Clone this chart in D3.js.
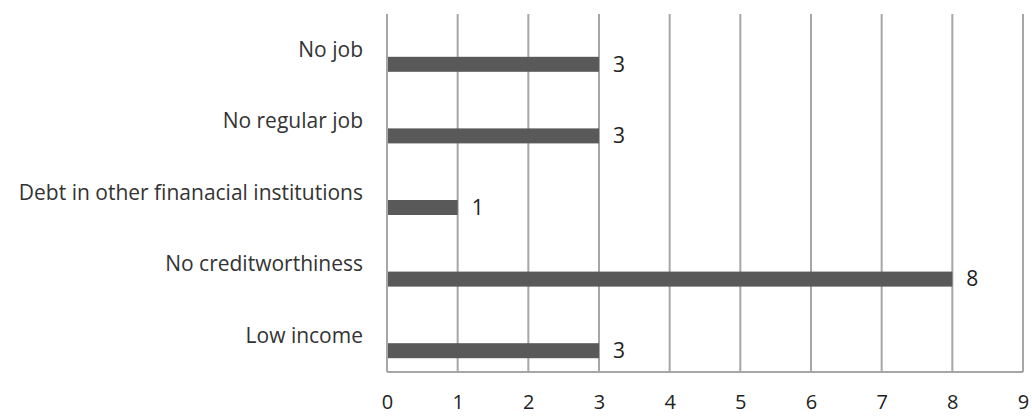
<!DOCTYPE html>
<html>
<head>
<meta charset="utf-8">
<script src="https://cdn.jsdelivr.net/npm/d3@7"></script>
<style>
  body { margin: 0; background: #fff; }
  svg { display: block; font-family: "Open Sans", "Noto Sans", sans-serif; }
</style>
</head>
<body>
<div id="chart"></div>
<script>
// reasons, top to bottom
var categories = ["No job", "No regular job", "Debt in other finanacial institutions", "No creditworthiness", "Low income"];
var values = [3, 3, 1, 8, 3];
var xTicks = [0, 1, 2, 3, 4, 5, 6, 7, 8, 9];

var svgWidth = 1032, svgHeight = 417;
var margin = { top: 14, right: 5, bottom: 45, left: 387 };
var width = svgWidth - margin.left - margin.right;
var height = svgHeight - margin.top - margin.bottom;

var svg = d3.select("#chart").append("svg")
    .attr("width", svgWidth)
    .attr("height", svgHeight);

var g = svg.append("g")
    .attr("transform", "translate(" + margin.left + "," + margin.top + ")");

var x = d3.scaleLinear()
    .domain([0, 9])
    .range([0, 636]);

var y = d3.scaleBand()
    .domain(categories)
    .range([0, height]);

// vertical grid lines
g.selectAll(".grid")
    .data(xTicks)
    .enter().append("line")
    .attr("x1", function(d) { return x(d); })
    .attr("x2", function(d) { return x(d); })
    .attr("y1", 0)
    .attr("y2", height)
    .attr("stroke", "#a6a6a6")
    .attr("stroke-width", 2);

// bottom axis line
g.append("line")
    .attr("x1", 0)
    .attr("x2", x(9))
    .attr("y1", height)
    .attr("y2", height)
    .attr("stroke", "#a6a6a6")
    .attr("stroke-width", 2);

var xAxis = g.append("g")
    .attr("transform", "translate(0," + height + ")")
    .call(d3.axisBottom(x).tickValues(xTicks).tickSize(0).tickPadding(23).tickFormat(d3.format("d")));
xAxis.select(".domain").remove();
xAxis.selectAll("text")
    .attr("font-size", 20)
    .attr("font-family", "Open Sans, sans-serif")
    .attr("fill", "#222");

// category labels sit at band centres, bars a little below
var yAxis = g.append("g")
    .call(d3.axisLeft(y).tickSize(0).tickPadding(24));
yAxis.select(".domain").remove();
yAxis.selectAll("text")
    .attr("font-size", 21)
    .attr("font-family", "Open Sans, sans-serif")
    .attr("fill", "#333");

var barOffset = 7, barHeight = 15;

g.selectAll(".bar")
    .data(values)
    .enter().append("rect")
    .attr("x", x(0) + 1)
    .attr("y", function(d, i) { return y(categories[i]) + y.bandwidth() / 2 + barOffset; })
    .attr("width", function(d) { return x(d) - x(0) - 1; })
    .attr("height", barHeight)
    .attr("fill", "#595959");

g.selectAll(".val")
    .data(values)
    .enter().append("text")
    .attr("x", function(d) { return x(d) + 14; })
    .attr("y", function(d, i) { return y(categories[i]) + y.bandwidth() / 2 + barOffset + barHeight / 2; })
    .attr("dy", "0.35em")
    .attr("font-size", 21)
    .attr("fill", "#222")
    .text(function(d) { return d; });
</script>
</body>
</html>
